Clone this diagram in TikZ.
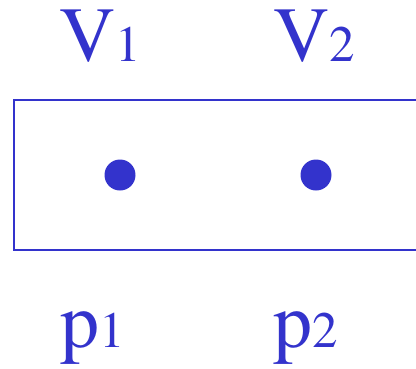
\documentclass[tikz,border=0pt]{standalone}
\usepackage{fontspec}
\newfontfamily\tiempos{TeX Gyre Termes}
\definecolor{azul}{HTML}{3333CC}
\newcommand{\grande}{\fontsize{78}{84}\selectfont}
\newcommand{\chico}{\fontsize{51}{56}\selectfont}
\begin{document}
\begin{tikzpicture}[x=1pt,y=-1pt,
    etiqueta/.style={inner sep=0pt, anchor=base, text=azul, font=\tiempos},
    punto/.style={circle, fill=azul, inner sep=0pt, minimum size=31pt}]
    % parámetros
    \def\xa{120}   % x del punto 1
    \def\xb{316}   % x del punto 2
    \def\yp{175}   % y de los puntos

    % marco
    \useasboundingbox (0,0) rectangle (416,368);
    \clip (0,0) rectangle (416,368);

    % caja (abierta por la derecha)
    \draw[azul, line width=2pt] (14,99.5) rectangle (430,249.5);

    % puntos
    \node[punto] (p1) at (\xa,\yp) {};
    \node[punto] (p2) at (\xb,\yp) {};

    % etiquetas V arriba
    \node[etiqueta] (v1) at (100.5,61) {\grande V\chico 1};
    \node[etiqueta] (v2) at (314.5,61) {\grande V\chico 2};

    % etiquetas p abajo
    \node[etiqueta] (q1) at (92.5,347) {\grande p\chico 1};
    \node[etiqueta] (q2) at (306,347) {\grande p\chico 2};
\end{tikzpicture}
\end{document}
